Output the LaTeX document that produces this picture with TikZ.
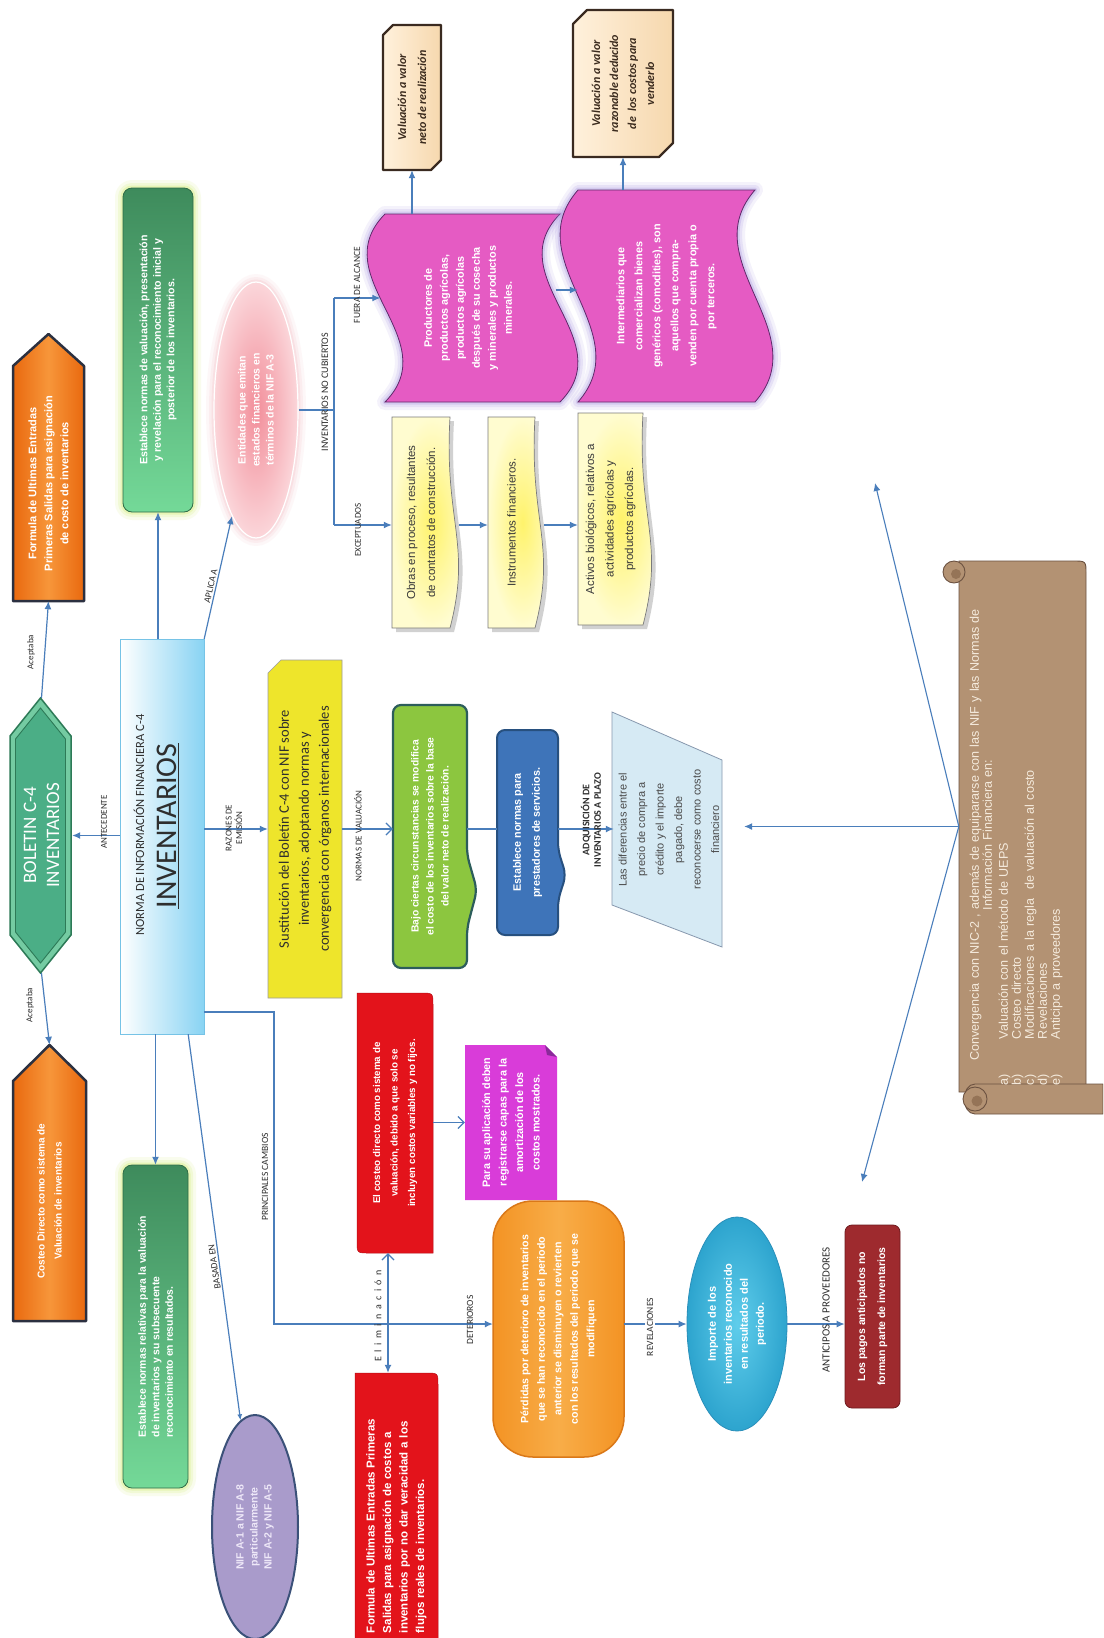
\documentclass[tikz,border=0pt]{standalone}
\usepackage{fontspec}
\setmainfont{Carlito}
\newfontfamily\arf{Liberation Sans}
\usetikzlibrary{arrows.meta,shapes.geometric,calc}
\newcommand\myfs[2]{\fontsize{#1}{#2}\selectfont}

\definecolor{lnkc}{HTML}{4A7EBB}
\definecolor{txtD}{HTML}{2E2E2E}
\definecolor{orF1}{HTML}{E9690F}
\definecolor{orF2}{HTML}{F7963A}
\definecolor{pentB}{HTML}{2B3040}
\definecolor{hexO}{HTML}{74CBA2}
\definecolor{hexI}{HTML}{4BAE86}
\definecolor{hexB}{HTML}{2D7A57}
\definecolor{cenB}{HTML}{88D3F3}
\definecolor{cenL}{HTML}{76C3E6}
\definecolor{gTop}{HTML}{3E8B5C}
\definecolor{gBot}{HTML}{74D998}
\definecolor{gLine}{HTML}{2F6B46}
\definecolor{gGlow}{HTML}{D2EC6E}
\definecolor{pinkC}{HTML}{F28E9A}
\definecolor{pinkO}{HTML}{FBD6DA}
\definecolor{pinkG}{HTML}{F6C2C8}
\definecolor{purF}{HTML}{A99BCB}
\definecolor{purB}{HTML}{3B5179}
\definecolor{purT}{HTML}{EEE8F8}
\definecolor{scrP}{HTML}{E55BC3}
\definecolor{scrPB}{HTML}{5E2A6A}
\definecolor{scrG}{HTML}{A995E0}
\definecolor{beiF}{HTML}{FFF1DC}
\definecolor{beiD}{HTML}{F6D8AE}
\definecolor{beiB}{HTML}{3A2A20}
\definecolor{beiT}{HTML}{3B2B1E}
\definecolor{docF}{HTML}{FFF36B}
\definecolor{docO}{HTML}{FFFCD0}
\definecolor{docB}{HTML}{7A7A7A}
\definecolor{docT}{HTML}{3A3A3A}
\definecolor{sustF}{HTML}{EEE52B}
\definecolor{sustB}{HTML}{9C9C9C}
\definecolor{limeF}{HTML}{8CC63F}
\definecolor{limeB}{HTML}{2C5D5B}
\definecolor{blueF}{HTML}{3E74B9}
\definecolor{blueB}{HTML}{27507F}
\definecolor{trapF}{HTML}{D6EAF4}
\definecolor{trapB}{HTML}{8798AE}
\definecolor{trapT}{HTML}{4A4A4A}
\definecolor{redF}{HTML}{E3131B}
\definecolor{magF}{HTML}{D93CD9}
\definecolor{magD}{HTML}{8A2A9A}
\definecolor{oranF}{HTML}{F39324}
\definecolor{oranL}{HTML}{F8AD48}
\definecolor{oranB}{HTML}{DA7818}
\definecolor{cyI}{HTML}{5FCDEB}
\definecolor{cyO}{HTML}{2DA4CE}
\definecolor{cyB}{HTML}{2A8FBA}
\definecolor{dredF}{HTML}{9E2A2E}
\definecolor{dredB}{HTML}{6E1A1E}
\definecolor{scrF}{HTML}{B39273}
\definecolor{scrB}{HTML}{6B5140}
\definecolor{scrD}{HTML}{957457}
\definecolor{scrT}{HTML}{F5EBDD}

\tikzset{
  lnk/.style={draw=lnkc, line width=1.2pt},
  arr/.style={lnk, -{Latex[length=8pt,width=7pt]}},
  oarr/.style={lnk, -{Straight Barb[length=6pt,width=12pt]}},
  rt/.style={rotate=90, align=center, inner sep=2pt},
  wb/.style={rt, text=white},
  lab/.style={font=\myfs{9.5}{11}, text=txtD, inner sep=1.5pt, align=center},
  lbl/.style={lab, rotate=90},
  glow/.style={preaction={draw=#1, line width=16pt, opacity=.12, line join=round},
               preaction={draw=#1, line width=10pt, opacity=.18, line join=round},
               preaction={draw=#1, line width=5pt, opacity=.3, line join=round}},
  pent/.style={draw=pentB, line width=2.5pt, line join=round,
               left color=orF1, right color=orF1, middle color=orF2},
  docbox/.style={draw=docB, line width=.7pt, inner color=docF, outer color=docO,
               preaction={fill=black, opacity=.18, transform canvas={xshift=4pt,yshift=-4pt}}},
  bevel/.style={draw=beiB, line width=2.2pt, line join=round, left color=beiF, right color=beiD},
  dtext/.style={rt, text=docT, font=\arf\myfs{11.5}{20}},
}

\begin{document}
\begin{tikzpicture}[x=1pt,y=-1pt]
\useasboundingbox (0,0) rectangle (1103,1638);
\clip (0,0) rectangle (1103,1638);
\fill[white] (0,0) rectangle (1103,1638);

% ---------- antecedent column ----------
\draw[pent] (13,601) -- (13,366) -- (48.5,334) -- (84,366) -- (84,601) -- cycle;
\node[wb, minimum width=235pt, minimum height=71pt, font=\arf\bfseries\myfs{11}{16}] (ueps) at (48.5,483.5)
  {Formula de Ultimas Entradas\\Primeras Salidas para asignación\\de costo de inventarios};

\draw[draw=hexB, line width=1.5pt, fill=hexO] (40.5,698) -- (71,736) -- (71,935) -- (40.5,973) -- (10,935) -- (10,736) -- cycle;
\draw[draw=hexB, line width=.9pt, fill=hexI] (40.5,708) -- (65.5,739) -- (65.5,932) -- (40.5,963) -- (15.5,932) -- (15.5,739) -- cycle;
\node[wb, minimum width=275pt, minimum height=61pt, font=\myfs{19}{23}] (boletin) at (41.5,835.5) {BOLETIN C-4\\INVENTARIOS};

\draw[pent] (13,1321) -- (13,1081) -- (49.5,1045) -- (86,1081) -- (86,1321) -- cycle;
\node[wb, minimum width=240pt, minimum height=73pt, font=\arf\bfseries\myfs{10}{17}] (costeo) at (49.5,1201)
  {Costeo Directo como sistema de\\Valuación de inventarios};

% ---------- central column ----------
\draw[glow=gGlow, top color=gTop, bottom color=gBot, draw=gLine, line width=.8pt, rounded corners=9pt] (123,188) rectangle (193,512);
\node[wb, minimum width=324pt, minimum height=70pt, font=\arf\bfseries\myfs{10.6}{13.5}] (objetivo) at (158,350)
  {Establece normas de valuación, presentación\\y revelación para el reconocimiento inicial y\\posterior de los inventarios.};

\draw[left color=white, right color=cenB, draw=cenL, line width=1pt] (120,639) rectangle (204,1034);
\node[rt, minimum width=395pt, minimum height=84pt, inner sep=0pt] (nif) at (162,836.5) {};
\node[rt, text=txtD, font=\myfs{12.5}{14}] (niftitulo) at (139,825) {NORMA DE INFORMACIÓN FINANCIERA C-4};
\node[rt, text=txtD, font=\myfs{30}{32}] (nifinv) at (168,826) {\underline{INVENTARIOS}};

\draw[glow=gGlow, top color=gTop, bottom color=gBot, draw=gLine, line width=.8pt, rounded corners=9pt] (123,1165) rectangle (188,1488);
\node[wb, minimum width=323pt, minimum height=65pt, align=left, font=\arf\bfseries\myfs{10.4}{13.5}] (alcance) at (155.5,1326.5)
  {Establece normas relativas para la valuación\\de inventarios y su subsecuente\\reconocimiento en resultados.};

\node[rt, ellipse, minimum width=224pt, minimum height=86pt, fill=purF, draw=purB, line width=2pt,
      text=purT, font=\arf\bfseries\myfs{10.5}{14}] (basenif) at (255,1527)
  {NIF A-1 a NIF A-8\\particularmente\\NIF A-2 y NIF A-5};

\node[rt, ellipse, minimum width=256pt, minimum height=84pt, inner color=pinkC, outer color=pinkO,
      draw=white, line width=1.2pt, glow=pinkG, text=white, font=\arf\bfseries\myfs{10.5}{14}] (entidades) at (256,410)
  {Entidades que emitan\\estados financieros en\\términos de la NIF A-3};

% ---------- inventories not covered ----------
\draw[glow=scrG, fill=scrP, draw=scrPB, line width=.8pt]
  (385,214) -- (560,214) .. controls (498,276.7) and (622,339.3) .. (560,402)
  -- (385,402) .. controls (447,339.3) and (323,276.7) .. (385,214) -- cycle;
\node[wb, minimum width=188pt, minimum height=175pt, font=\arf\bfseries\myfs{10.8}{16}] (productores) at (468,308)
  {Productores de\\productos agrícolas,\\productos agrícolas\\después de su cosecha\\y minerales y productos\\minerales.};

\draw[glow=scrG, fill=scrP, draw=scrPB, line width=.8pt]
  (578,190) -- (755,190) .. controls (693,260.7) and (817,331.3) .. (755,402)
  -- (578,402) .. controls (640,331.3) and (516,260.7) .. (578,190) -- cycle;
\node[wb, minimum width=212pt, minimum height=177pt, font=\arf\bfseries\myfs{10.8}{18}] (intermediarios) at (666.5,296)
  {Intermediarios que\\comercializan bienes\\genéricos (comodities), son\\aquellos que compra-\\venden por cuenta propia o\\por terceros.};

\draw[bevel] (383,35) -- (393,25) -- (441,25) -- (441,160) -- (431,170) -- (383,170) -- cycle;
\node[rt, minimum width=145pt, minimum height=58pt, text=beiT, font=\bfseries\itshape\myfs{12}{20}] (vnr) at (412,97.5)
  {Valuación a valor\\neto de realización};
\draw[bevel] (573,24) -- (587,10) -- (673,10) -- (673,143) -- (659,157) -- (573,157) -- cycle;
\node[rt, minimum width=147pt, minimum height=100pt, text=beiT, font=\bfseries\itshape\myfs{12}{18}] (vrazonable) at (623,83.5)
  {Valuación a valor\\razonable deducido\\de\ \ los costos para\\venderlo};

\draw[docbox] (392,417) -- (450,417) .. controls (444,522.5) and (472,543.6) .. (450,628) -- (392,628) -- cycle;
\node[dtext, minimum width=211pt, minimum height=58pt] (obras) at (421,522.5)
  {Obras en proceso, resultantes\\de contratos de construcción.};
\draw[docbox] (488,417) -- (535,417) .. controls (529,522.5) and (557,543.6) .. (535,628) -- (488,628) -- cycle;
\node[dtext, minimum width=211pt, minimum height=47pt] (instrumentos) at (511.5,522.5) {Instrumentos financieros.};
\draw[docbox] (578,413) -- (643,413) .. controls (637,519) and (665,540) .. (643,625) -- (578,625) -- cycle;
\node[dtext, minimum width=212pt, minimum height=65pt, font=\arf\myfs{11.5}{19.5}] (activos) at (610.5,519)
  {Activos biológicos, relativos a\\actividades agrícolas y\\productos agrícolas.};

% ---------- reasons and valuation ----------
\draw[fill=sustF, draw=sustB, line width=.6pt] (268,673) -- (281,660) -- (342,660) -- (342,998) -- (268,998) -- cycle;
\node[rt, minimum width=338pt, minimum height=74pt, text=txtD, font=\myfs{14.5}{20}] (sustitucion) at (305,829)
  {Sustitución del Boletín C-4 con NIF sobre\\inventarios, adoptando normas y\\convergencia con órganos internacionales};

\draw[fill=limeF, draw=limeB, line width=2.2pt, rounded corners=8pt]
  (393,705) -- (467,705) -- (467,855) -- (477,890) -- (467,928) -- (467,968) -- (393,968) -- cycle;
\node[wb, minimum width=263pt, minimum height=74pt, font=\arf\bfseries\myfs{10.3}{15}] (bajo) at (430,836.5)
  {Bajo ciertas circunstancias se modifica\\el costo de los inventarios sobre la base\\del valor neto de realización.};

\draw[fill=blueF, draw=blueB, line width=2pt, rounded corners=8pt]
  (497,730) -- (558,730) -- (558,850) -- (566,875) -- (558,900) -- (558,935) -- (497,935) -- cycle;
\node[wb, minimum width=205pt, minimum height=61pt, font=\arf\bfseries\myfs{10.8}{19}] (servicios) at (527.5,832.5)
  {Establece normas para\\prestadores de servicios.};

\draw[fill=trapF, draw=trapB, line width=.8pt] (612,712) -- (722,760) -- (722,947) -- (612,905) -- cycle;
\node[rt, minimum width=235pt, minimum height=110pt, text=trapT, font=\arf\myfs{11}{18.5}] (plazo) at (669,829.5)
  {Las diferencias entre el\\precio de compra a\\crédito y el importe\\pagado, debe\\reconocerse como costo\\financiero};

% ---------- main changes ----------
\draw[fill=redF, draw=redF!80!black, line width=.5pt]
  (357,993) -- (421,993) .. controls (433,993) .. (433,1005) -- (433,1253) -- (369,1253) .. controls (357,1253) .. (357,1241) -- cycle;
\node[wb, minimum width=260pt, minimum height=76pt, font=\arf\bfseries\myfs{9.8}{17.5}] (directo) at (395,1123)
  {El costeo directo como sistema de\\valuación, debido a que solo se\\incluyen costos variables y no fijos.};

\fill[magF] (465,1045) -- (545,1045) -- (557,1057) -- (557,1200) -- (465,1200) -- cycle;
\fill[magD] (545,1045) -- (547,1055) -- (557,1057) -- cycle;
\node[wb, minimum width=155pt, minimum height=92pt, font=\arf\bfseries\myfs{10.8}{16.5}] (capas) at (511,1122.5)
  {Para su aplicación deben\\registrarse capas para la\\amortización de los\\costos mostrados.};

\draw[fill=redF, draw=redF!80!black, line width=.5pt]
  (355,1373) -- (426,1373) .. controls (438,1373) .. (438,1385) -- (438,1660) -- (355,1660) -- cycle;
\node[wb, minimum width=265pt, minimum height=83pt, inner sep=5pt, text width=255pt, align=left,
      font=\arf\bfseries\myfs{11.5}{16.5}] (uepsfuera) at (396.5,1505.5)
  {Formula de Ultimas Entradas Primeras\\Salidas para asignación de costos a\\inventarios por no dar veracidad a los\\flujos reales de inventarios.};

\draw[left color=oranF, right color=oranF, middle color=oranL, draw=oranB, line width=1.5pt, rounded corners=40pt]
  (493,1201) rectangle (624,1457);
\node[wb, minimum width=256pt, minimum height=131pt, font=\arf\bfseries\myfs{10.6}{16.5}] (deterioro) at (558.5,1329)
  {Pérdidas por deterioro de inventarios\\que se han reconocido en el periodo\\anterior se disminuyen o revierten\\con los resultados del periodo que se\\modifiquen};

\node[rt, ellipse, minimum width=214pt, minimum height=100pt, inner color=cyI, outer color=cyO, draw=cyB,
      line width=.8pt, text=white, font=\arf\bfseries\myfs{11}{16}] (importe) at (737,1324)
  {Importe de los\\inventarios reconocido\\en resultados del\\periodo.};

\node[wb, fill=dredF, draw=dredB, line width=.8pt, rounded corners=7pt, minimum width=183pt, minimum height=55pt,
      font=\arf\bfseries\myfs{10.5}{20}] (anticipos) at (872.5,1316.5)
  {Los pagos anticipados no\\forman parte de inventarios};

% ---------- convergence scroll ----------
\draw[fill=scrF, draw=scrB, line width=.9pt]
  (959,561) -- (1073,561) .. controls (1086,561) .. (1086,574) -- (1086,1092) -- (959,1092) -- cycle;
\draw[fill=scrF, draw=scrB, line width=.9pt] (954,572) circle[radius=11pt];
\fill[scrD] (956,574) circle[radius=5pt];
\draw[fill=scrF, draw=scrB, line width=.9pt]
  (975,1084) -- (1103,1084) -- (1103,1114) -- (975,1114) .. controls (961,1114) and (961,1084) .. (975,1084) -- cycle;
\draw[fill=scrF, draw=scrB, line width=.9pt] (975,1099) circle[radius=12pt];
\fill[scrD] (977,1101) circle[radius=5.5pt];
\node[rt, minimum width=531pt, minimum height=127pt, inner sep=0pt] (pergamino) at (1022.5,826.5) {};
\node[rotate=90, text width=500pt, inner sep=0pt, text=scrT, font=\arf\myfs{12.6}{13}] (convergencia) at (1016,835)
  {\centering Convergencia con NIC-2 , además de equipararse con las NIF y las Normas de\\Información Financiera en:\par
   \vspace{3pt}\raggedright
   \makebox[46pt][l]{a)}Valuación con el método de UEPS\\
   \makebox[46pt][l]{b)}Costeo directo\\
   \makebox[46pt][l]{c)}Modificaciones a la regla\ \ de valuación al costo\\
   \makebox[46pt][l]{d)}Revelaciones\\
   \makebox[46pt][l]{e)}Anticipo a proveedores\par};

% ---------- helper points ----------
\coordinate (brtop) at (334,298);
\coordinate (brbot) at (334,525);
\coordinate (rowscr) at (0,290);
\coordinate (elimx) at (388,0);
\coordinate (pc1) at (274,1012);
\coordinate (pc2) at (274,1324);
\coordinate (ptup) at (875,483);
\coordinate (ptdn) at (862,1182);

% ---------- connectors ----------
\draw[arr] (nif.east -| objetivo) -- (objetivo.west);
\draw[arr] (nif.west -| alcance) -- (alcance.east);
\draw[arr] (nif.north |- boletin) -- (boletin.south);
\draw[arr] (boletin.east) -- (ueps.west);
\draw[arr] (boletin.west) -- ([yshift=36pt]costeo.east);
\draw[arr] (nif.south east) -- node[lab, sloped, above, pos=.42] (aplica) {APLICA A} (entidades);
\draw[lnk, -{Latex[length=6pt,width=5pt]}] ($(nif.south west)+(-16,0)$) -- node[lab, rotate=98.5, above, pos=.6] (basada) {BASADA EN} (basenif);

\draw[lnk] (entidades.south) -- (entidades.south -| brtop);
\draw[lnk] (brtop) -- (brbot);
\draw[arr] (brtop) -- (brtop -| productores.north);
\draw[arr] (brbot) -- (brbot -| obras.north);
\draw[arr] ($(obras.south |- brbot)+(9,0)$) -- (instrumentos.north |- brbot);
\draw[arr] ($(instrumentos.south |- brbot)+(9,0)$) -- (activos.north |- brbot);
\draw[arr] (productores.south |- rowscr) -- (intermediarios.north |- rowscr);
\draw[arr] (productores.east -| vnr) -- (vnr.west);
\draw[arr] (intermediarios.east -| vrazonable) -- (vrazonable.west);

\draw[arr] (nif.south |- sustitucion) -- (sustitucion.north);
\draw[oarr] (sustitucion.south) -- (sustitucion.south -| bajo.north);
\draw[lnk] (bajo.south |- sustitucion) -- (servicios.north |- sustitucion);
\draw[arr] (servicios.south |- sustitucion) -- (plazo.north |- sustitucion);

\draw[oarr] (directo.south |- capas) -- (capas.north);
\draw[lnk, {Straight Barb[length=6pt,width=12pt]}-{Latex[length=8pt,width=7pt]}] (directo.west -| elimx) -- (uepsfuera.east -| elimx);
\draw[arr] (nif.south |- pc1) -- (pc1) -- (pc2) -- (pc2 -| deterioro.north);
\draw[arr] (deterioro.south |- importe) -- (importe.north);
\draw[arr] (importe.south) -- (importe.south -| anticipos.north);

\draw[arr, line width=1.1pt] (pergamino.north) -- (ptup);
\draw[arr, line width=1.1pt] (pergamino.north) -- (ptdn);
\draw[arr, line width=1.1pt] (pergamino.north) -- ($(plazo.south |- pergamino.north)+(20,0)$);

% ---------- connector labels ----------
\node[lbl, font=\myfs{9}{10}] (acep1) at (31,652) {Aceptaba};
\node[lbl, font=\myfs{9}{10}] (acep2) at (30,1005) {Aceptaba};
\node[lbl, font=\myfs{9}{10}] (antec) at (104,822) {ANTECEDENTE};
\node[lbl, font=\myfs{9}{10.5}] (razones) at (234,828) {RAZONES DE\\EMISIÓN};
\node[lbl, font=\myfs{9}{10}] (normasv) at (358,836) {NORMAS DE VALUACIÓN};
\node[lbl, font=\bfseries\myfs{10}{11.5}] (adq) at (591,820) {ADQUISICIÓN DE\\INVENTARIOS A PLAZO};
\node[lbl, font=\myfs{10}{11}] (nocub) at (325,392) {INVENTARIOS NO CUBIERTOS};
\node[lbl] (fuera) at (357,285) {FUERA DE ALCANCE};
\node[lbl, font=\myfs{9}{10}] (excep) at (358,530) {EXCEPTUADOS};
\node[lbl] (princ) at (265,1177) {PRINCIPALES CAMBIOS};
\node[lbl, font=\myfs{10}{11}] (elim) at (378,1316)
  {{\def\ls{\hspace{4.5pt}}E\ls l\ls i\ls m\ls i\ls n\ls a\ls c\ls i\ls ó\ls n}};
\node[lbl] (deter) at (470,1320) {DETERIOROS};
\node[lbl, fill=white] (revel) at (650,1327) {REVELACIONES};
\node[lbl, font=\myfs{11}{12}] (antic) at (826,1310) {ANTICIPOS A PROVEEDORES};
\end{tikzpicture}
\end{document}
